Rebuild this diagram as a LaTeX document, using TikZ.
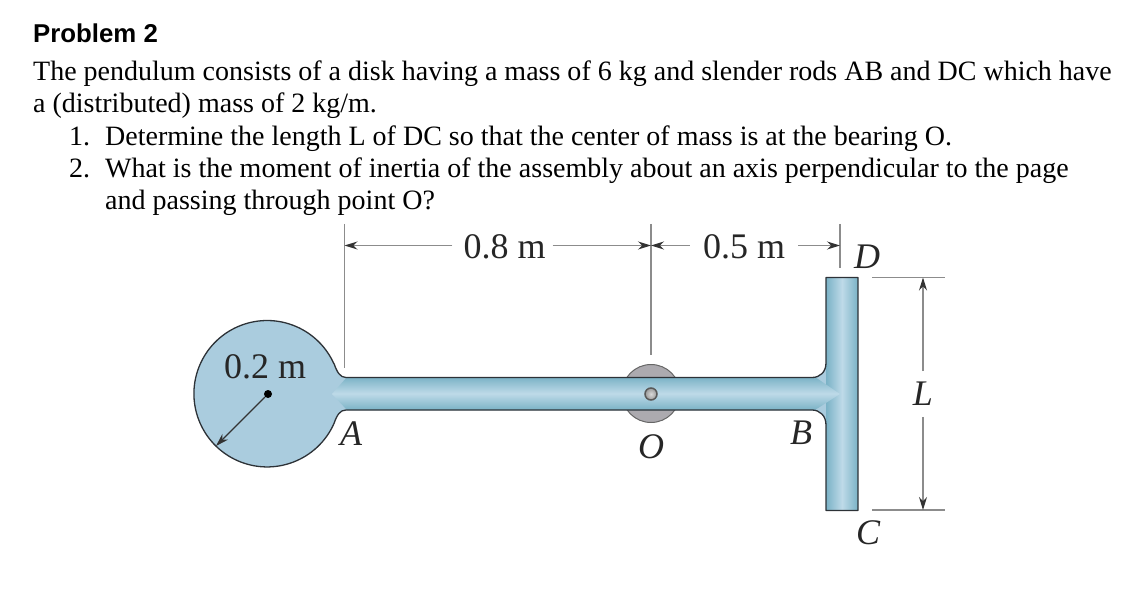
\documentclass[tikz,border=0pt]{standalone}
\usepackage{fontspec}
\setmainfont{Liberation Serif}
\newfontfamily\headfont{Liberation Sans}
\usetikzlibrary{arrows.meta}
\definecolor{diskblue}{RGB}{170,204,222}
\definecolor{rodedge}{RGB}{122,178,198}
\definecolor{rodlight}{RGB}{190,218,232}
\definecolor{dimgray}{RGB}{140,140,140}
\definecolor{bodyline}{RGB}{45,50,55}
\definecolor{bearing}{RGB}{172,170,175}
\tikzset{
  bodytext/.style={anchor=base west,inner sep=0pt,font=\fontsize{28bp}{28bp}\selectfont},
  headtext/.style={anchor=base west,inner sep=0pt,font=\headfont\bfseries\fontsize{25.8bp}{25.8bp}\selectfont},
  dimtext/.style={inner sep=0pt,font=\fontsize{36bp}{36bp}\selectfont,text=black!85},
  ptlabel/.style={inner sep=0pt,font=\itshape\fontsize{36bp}{36bp}\selectfont,text=black!85},
  extline/.style={draw=dimgray,line width=1.2bp},
  dimarrow/.style={draw=dimgray,line width=1.2bp,-{Stealth[length=13bp,width=8bp,color=black!80]}},
  outline/.style={draw=bodyline,line width=1.3bp,line join=round},
}
\newcommand{\bodypath}{(334,363.5) .. controls (337,372) and (340,377.5) .. (346,377.5) -- (812,377.5) .. controls (820,377.5) and (826,372) .. (826,363) -- (826,277.5) -- (858,277.5) -- (858,510.5) -- (826,510.5) -- (826,425) .. controls (826,416) and (820,410) .. (812,410) -- (346,410) .. controls (340,410) and (337,415) .. (334,423.5) arc[start angle=24,end angle=336,radius=73.2]}
\begin{document}
\begin{tikzpicture}[x=1bp,y=-1bp]
\useasboundingbox (0,0) rectangle (1147,599);
% text
\node[headtext] (head) at (33,43) {Problem 2};
\node[bodytext] (l1) at (33,81) {The pendulum consists of a disk having a mass of 6 kg and slender rods AB and DC which have};
\node[bodytext] (l2) at (33,113) {a (distributed) mass of 2 kg/m.};
\node[bodytext] (n1) at (69,145.5) {1.};
\node[bodytext] (l3) at (105,145.5) {Determine the length L of DC so that the center of mass is at the bearing O.};
\node[bodytext] (n2) at (69,178) {2.};
\node[bodytext] (l4) at (105,178) {What is the moment of inertia of the assembly about an axis perpendicular to the page};
\node[bodytext] (l5) at (105,210) {and passing through point O?};
% bearing
\fill[bearing,draw=black!60,line width=1bp] (651,393.5) circle[radius=29];
% body
\fill[diskblue] \bodypath;
\begin{scope}
\clip \bodypath;
\shade[left color=rodedge,right color=rodedge,middle color=rodlight] (826,277) rectangle (858,511);
\shade[top color=rodedge,bottom color=rodedge,middle color=rodlight] (332,394) -- (347,377) -- (815,377) -- (840,394) -- (815,410) -- (347,410) -- cycle;
\end{scope}
\draw[outline] \bodypath;
% pin and disk centre
\node[circle,minimum size=12bp,inner sep=0pt,draw=black!65,line width=1.5bp,inner color=white!85!black,outer color=black!40] (pin) at (651,394) {};
\node[circle,fill=black,minimum size=8bp,inner sep=0pt] (centre) at (268,394) {};
\coordinate (rim) at (216,446);
\draw[line width=1.1bp,draw=black!80,-{Stealth[length=13bp,width=8bp]}] (centre) -- (rim);
% extension lines
\coordinate (a1) at (344.5,224); \coordinate (a2) at (344.5,368);
\coordinate (o1) at (651,224); \coordinate (o2) at (651,355);
\coordinate (d1) at (840,224); \coordinate (d2) at (840,268);
\coordinate (t1) at (872,277.5); \coordinate (t2) at (945,277.5);
\coordinate (b1) at (872,510); \coordinate (b2) at (945,510);
\draw[extline] (a1) -- (a2);
\draw[extline] (o1) -- (o2);
\draw[extline] (d1) -- (d2);
\draw[extline] (t1) -- (t2);
\draw[extline] (b1) -- (b2);
% dimensions
\coordinate (ad) at (344.5,245.5); \coordinate (od) at (651,245.5); \coordinate (dd) at (840,245.5);
\coordinate (lt) at (923,277.5); \coordinate (lb) at (923,510);
\node[dimtext] (d08) at (504.5,247) {0.8 m};
\node[dimtext] (d05) at (744,247) {0.5 m};
\node[dimtext] (d02) at (265,367) {0.2 m};
\node[ptlabel] (LL) at (923,394) {L};
\node[ptlabel] (A) at (351,434) {A};
\node[ptlabel] (O) at (651,447) {O};
\node[ptlabel] (B) at (801,433) {B};
\node[ptlabel] (C) at (868,533) {C};
\node[ptlabel] (D) at (867,257) {D};
\draw[dimarrow] (d08.west |- ad) ++(-11,0) -- (ad);
\draw[dimarrow] (d08.east |- od) ++(7,0) -- (od);
\draw[dimarrow] (d05.west |- od) ++(-13,0) -- (od);
\draw[dimarrow] (d05.east |- dd) ++(13,0) -- (dd);
\draw[dimarrow] ([yshift=11bp]LL.north) -- (lt);
\draw[dimarrow] ([yshift=-11bp]LL.south) -- (lb);
\end{tikzpicture}
\end{document}
